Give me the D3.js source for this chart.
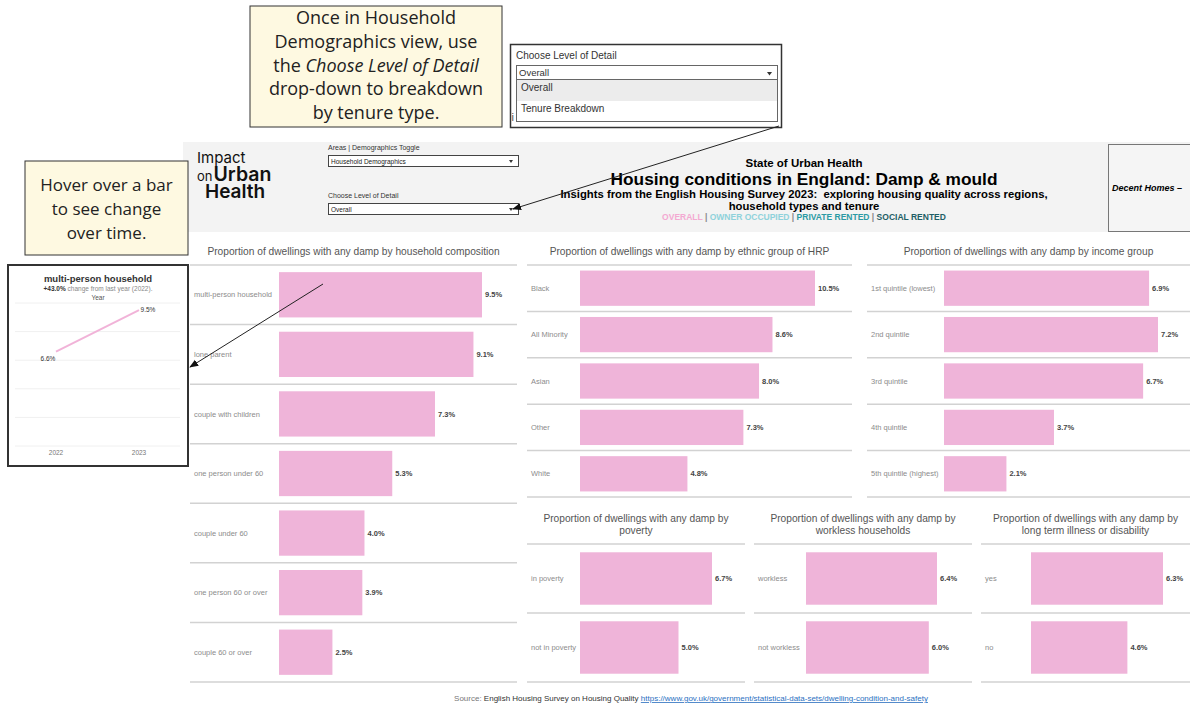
<!DOCTYPE html>
<html>
<head>
<meta charset="utf-8">
<script src="https://cdn.jsdelivr.net/npm/d3@7"></script>
<style>
  html, body { margin: 0; padding: 0; background: #ffffff; }
  svg { display: block; font-family: "Liberation Sans", Arial, sans-serif; }
  .pre { white-space: pre; }
</style>
</head>
<body>
<svg id="chart" width="1190" height="704"></svg>
<script>
"use strict";

/********/
/* data */
/********/

const householdCats = [
  "multi-person household",
  "lone parent",
  "couple with children",
  "one person under 60",
  "couple under 60",
  "one person 60 or over",
  "couple 60 or over",
];
const householdVals = [9.5, 9.1, 7.3, 5.3, 4.0, 3.9, 2.5];

const ethnicCats = ["Black", "All Minority", "Asian", "Other", "White"];
const ethnicVals = [10.5, 8.6, 8.0, 7.3, 4.8];

const incomeCats = [
  "1st quintile (lowest)",
  "2nd quintile",
  "3rd quintile",
  "4th quintile",
  "5th quintile (highest)",
];
const incomeVals = [6.9, 7.2, 6.7, 3.7, 2.1];

const povertyCats = ["in poverty", "not in poverty"];
const povertyVals = [6.7, 5.0];

const worklessCats = ["workless", "not workless"];
const worklessVals = [6.4, 6.0];

const illnessCats = ["yes", "no"];
const illnessVals = [6.3, 4.6];

// tooltip: change over time for the hovered bar
const trendYears = ["2022", "2023"];
const trendVals = [6.6, 9.5];
const trendChange = "+43.0%";
const trendTicks = [0, 2, 4, 6, 8, 10];

const tenureLabels = ["OVERALL", "OWNER OCCUPIED", "PRIVATE RENTED", "SOCIAL RENTED"];
const tenureColours = ["#f3a9d2", "#8fd2db", "#2b9aa4", "#1f5e66"];

const barColour = "#efb4d9";

/********/
/* view */
/********/

const svg = d3.select("#chart");

const defs = svg.append("defs");
defs
  .append("marker")
  .attr("id", "arrow")
  .attr("viewBox", "0 0 10 10")
  .attr("refX", 9)
  .attr("refY", 5)
  .attr("markerWidth", 9)
  .attr("markerHeight", 9)
  .attr("markerUnits", "userSpaceOnUse")
  .attr("orient", "auto")
  .append("path")
  .attr("d", "M0,1 L10,5 L0,9 Z")
  .attr("fill", "#111");

// header band
svg
  .append("rect")
  .attr("x", 183)
  .attr("y", 142)
  .attr("width", 1007)
  .attr("height", 90)
  .attr("fill", "#f3f3f3");

function logoView() {
  const g = svg
    .append("g")
    .attr("font-family", "Inter, 'Liberation Sans', sans-serif")
    .attr("fill", "#111");
  g.append("text").attr("x", 197).attr("y", 163).attr("font-size", 15).attr("font-weight", 400).text("Impact");
  const l2 = g.append("text").attr("x", 197).attr("y", 181);
  l2.append("tspan").attr("font-size", 13).attr("font-weight", 400).text("on");
  l2.append("tspan").attr("font-size", 19.5).attr("font-weight", 600).attr("dx", 1).text("Urban");
  g.append("text").attr("x", 205).attr("y", 197.5).attr("font-size", 19).attr("font-weight", 600).text("Health");
}
logoView();

function dropdownView(x, y, w, label, value) {
  svg.append("text").attr("x", x).attr("y", y).attr("font-size", 7).attr("fill", "#333").text(label);
  svg
    .append("rect")
    .attr("x", x + 0.5)
    .attr("y", y + 5.5)
    .attr("width", w)
    .attr("height", 11)
    .attr("fill", "#fff")
    .attr("stroke", "#444");
  svg.append("text").attr("x", x + 3).attr("y", y + 13.5).attr("font-size", 6.5).attr("fill", "#222").text(value);
  svg
    .append("path")
    .attr("d", `M${x + w - 9},${y + 10} l4,0 l-2,3 z`)
    .attr("fill", "#333");
}
dropdownView(328, 150, 190, "Areas | Demographics Toggle", "Household Demographics");
dropdownView(328, 198, 190, "Choose Level of Detail", "Overall");

// titles
const cx = 804;
svg.append("text").attr("x", cx).attr("y", 167).attr("text-anchor", "middle")
  .attr("font-size", 11.5).attr("font-weight", "bold").text("State of Urban Health");
svg.append("text").attr("x", cx).attr("y", 185).attr("text-anchor", "middle")
  .attr("font-size", 17.3).attr("font-weight", "bold").text("Housing conditions in England: Damp & mould");
svg.append("text").attr("class", "pre").attr("x", cx).attr("y", 198).attr("text-anchor", "middle")
  .attr("font-size", 11.3).attr("font-weight", "bold")
  .text("Insights from the English Housing Survey 2023:  exploring housing quality across regions,");
svg.append("text").attr("x", cx).attr("y", 210).attr("text-anchor", "middle")
  .attr("font-size", 11.3).attr("font-weight", "bold").text("household types and tenure");

const tenure = svg.append("text").attr("x", cx).attr("y", 219.5).attr("text-anchor", "middle")
  .attr("font-size", 8.5).attr("font-weight", "bold");
tenureLabels.forEach((t, i) => {
  if (i > 0) tenure.append("tspan").attr("fill", "#888").text(" | ");
  tenure.append("tspan").attr("fill", tenureColours[i]).text(t);
});

// right header box
svg.append("rect").attr("x", 1108.5).attr("y", 144.5).attr("width", 90).attr("height", 87)
  .attr("fill", "#f5f5f5").attr("stroke", "#777");
svg.append("text").attr("x", 1112).attr("y", 191).attr("font-size", 9)
  .attr("font-style", "italic").attr("font-weight", "bold").text("Decent Homes \u2013");

/**********/
/* panels */
/**********/

function panelView(cfg) {
  const g = svg.append("g");
  cfg.title.forEach((t, i) => {
    g.append("text")
      .attr("x", (cfg.x0 + cfg.x1) / 2)
      .attr("y", cfg.titleY + i * 12)
      .attr("text-anchor", "middle")
      .attr("font-size", 10.2)
      .attr("fill", "#555")
      .text(t);
  });

  const y = d3.scaleBand().domain(cfg.cats).range([cfg.top, cfg.bottom]);
  const x = d3
    .scaleLinear()
    .domain([0, d3.max(cfg.vals)])
    .range([cfg.barStart, cfg.maxEnd]);
  const inset = y.bandwidth() * 0.12;

  const seps = cfg.cats.map(c => y(c)).concat([cfg.bottom]);
  g.selectAll(".sep")
    .data(seps)
    .join("line")
    .attr("x1", cfg.x0)
    .attr("x2", cfg.x1)
    .attr("y1", d => d)
    .attr("y2", d => d)
    .attr("stroke", "#d2d2d2")
    .attr("stroke-width", 1.5);

  const rows = g
    .selectAll(".row")
    .data(cfg.cats.map((c, i) => ({ cat: c, val: cfg.vals[i] })))
    .join("g");

  rows
    .append("rect")
    .attr("x", x(0))
    .attr("y", d => y(d.cat) + inset)
    .attr("width", d => x(d.val) - x(0))
    .attr("height", y.bandwidth() - inset * 2)
    .attr("fill", barColour);

  rows
    .append("text")
    .attr("x", cfg.x0 + 4)
    .attr("y", d => y(d.cat) + y.bandwidth() / 2)
    .attr("dy", "0.35em")
    .attr("font-size", 7.5)
    .attr("fill", "#8c8c8c")
    .text(d => d.cat);

  rows
    .append("text")
    .attr("x", d => x(d.val) + 3)
    .attr("y", d => y(d.cat) + y.bandwidth() / 2)
    .attr("dy", "0.35em")
    .attr("font-size", 7.5)
    .attr("font-weight", "bold")
    .attr("fill", "#444")
    .text(d => d.val.toFixed(1) + "%");
}

panelView({
  title: ["Proportion of dwellings with any damp by household composition"],
  titleY: 255, x0: 190, x1: 517, top: 265, bottom: 682,
  barStart: 279, maxEnd: 482, cats: householdCats, vals: householdVals,
});
panelView({
  title: ["Proportion of dwellings with any damp by ethnic group of HRP"],
  titleY: 255, x0: 527, x1: 852, top: 265, bottom: 497,
  barStart: 580, maxEnd: 815, cats: ethnicCats, vals: ethnicVals,
});
panelView({
  title: ["Proportion of dwellings with any damp by income group"],
  titleY: 255, x0: 867, x1: 1190, top: 265, bottom: 497,
  barStart: 944, maxEnd: 1158, cats: incomeCats, vals: incomeVals,
});
panelView({
  title: ["Proportion of dwellings with any damp by", "poverty"],
  titleY: 522, x0: 527, x1: 745, top: 544, bottom: 682,
  barStart: 580, maxEnd: 712, cats: povertyCats, vals: povertyVals,
});
panelView({
  title: ["Proportion of dwellings with any damp by", "workless households"],
  titleY: 522, x0: 754, x1: 972, top: 544, bottom: 682,
  barStart: 806, maxEnd: 937, cats: worklessCats, vals: worklessVals,
});
panelView({
  title: ["Proportion of dwellings with any damp by", "long term illness or disability"],
  titleY: 522, x0: 981, x1: 1190, top: 544, bottom: 682,
  barStart: 1031, maxEnd: 1163, cats: illnessCats, vals: illnessVals,
});

// source
const src = svg.append("text").attr("x", 691).attr("y", 701)
  .attr("text-anchor", "middle").attr("font-size", 8);
src.append("tspan").attr("fill", "#777").text("Source: ");
src.append("tspan").attr("fill", "#333").text("English Housing Survey on Housing Quality ");
src.append("tspan").attr("fill", "#2a6fbf").attr("text-decoration", "underline")
  .text("https://www.gov.uk/government/statistical-data-sets/dwelling-condition-and-safety");

/***********/
/* tooltip */
/***********/

function tooltipView() {
  const g = svg.append("g");
  g.append("rect").attr("x", 8).attr("y", 265).attr("width", 180).attr("height", 201)
    .attr("fill", "#fff").attr("stroke", "#333").attr("stroke-width", 2);

  g.append("text").attr("x", 98).attr("y", 282).attr("text-anchor", "middle")
    .attr("font-size", 9.5).attr("font-weight", "bold").attr("fill", "#333").text(householdCats[0]);
  const sub = g.append("text").attr("x", 98).attr("y", 291).attr("text-anchor", "middle").attr("font-size", 6.5);
  sub.append("tspan").attr("font-weight", "bold").attr("fill", "#333").text(trendChange);
  sub.append("tspan").attr("fill", "#888").text(` change from last year (${trendYears[0]}).`);
  g.append("text").attr("x", 98).attr("y", 300).attr("text-anchor", "middle")
    .attr("font-size", 6.5).attr("fill", "#555").text("Year");

  const x = d3.scalePoint().domain(trendYears).range([56, 139]);
  const y = d3.scaleLinear().domain([0, 10]).range([446, 303]);

  g.selectAll(".grid")
    .data(trendTicks)
    .join("line")
    .attr("x1", 15)
    .attr("x2", 180)
    .attr("y1", d => y(d))
    .attr("y2", d => y(d))
    .attr("stroke", "#f0f0f0");

  g.append("path")
    .datum(trendVals)
    .attr("d", d3.line().x((d, i) => x(trendYears[i])).y(d => y(d)))
    .attr("fill", "none")
    .attr("stroke", "#f1b3d8")
    .attr("stroke-width", 2);

  g.selectAll(".lbl")
    .data(trendVals)
    .join("text")
    .attr("x", (d, i) => x(trendYears[i]) + (i === 0 ? -8 : 9))
    .attr("y", (d, i) => y(d) + (i === 0 ? 9 : 2))
    .attr("text-anchor", "middle")
    .attr("font-size", 6.5)
    .attr("fill", "#333")
    .text(d => d.toFixed(1) + "%");

  g.selectAll(".yr")
    .data(trendYears)
    .join("text")
    .attr("x", d => x(d))
    .attr("y", 455)
    .attr("text-anchor", "middle")
    .attr("font-size", 6.5)
    .attr("fill", "#777")
    .text(d => d);
}
tooltipView();

/***************/
/* annotations */
/***************/

function noteView(x, y, w, h, lines, lineH, firstY, size) {
  const g = svg.append("g");
  g.append("rect").attr("x", x).attr("y", y).attr("width", w).attr("height", h)
    .attr("fill", "#fef9e1").attr("stroke", "#333").attr("stroke-width", 1);
  lines.forEach((line, i) => {
    const t = g.append("text").attr("x", x + w / 2).attr("y", firstY + i * lineH)
      .attr("text-anchor", "middle").attr("font-size", size)
      .attr("font-family", "'Open Sans', 'Noto Sans', sans-serif").attr("fill", "#222");
    line.forEach(part => {
      t.append("tspan").attr("font-style", part.italic ? "italic" : "normal").text(part.text);
    });
  });
}

noteView(25, 161, 163, 94, [
  [{ text: "Hover over a bar" }],
  [{ text: "to see change" }],
  [{ text: "over time." }],
], 24, 191, 17);

noteView(250, 6, 252, 121, [
  [{ text: "Once in Household" }],
  [{ text: "Demographics view, use" }],
  [{ text: "the " }, { text: "Choose Level of Detail", italic: true }],
  [{ text: "drop-down to breakdown" }],
  [{ text: "by tenure type." }],
], 23.8, 24, 18);

// dropdown screenshot
function dropdownShotView() {
  const g = svg.append("g");
  g.append("rect").attr("x", 510.5).attr("y", 44.5).attr("width", 271).attr("height", 83)
    .attr("fill", "#fff").attr("stroke", "#333").attr("stroke-width", 1.5);
  g.append("text").attr("x", 516).attr("y", 59).attr("font-size", 10).attr("fill", "#333").text("Choose Level of Detail");
  g.append("rect").attr("x", 516.5).attr("y", 65.5).attr("width", 261).attr("height", 14)
    .attr("fill", "#fff").attr("stroke", "#666");
  g.append("text").attr("x", 519).attr("y", 76).attr("font-size", 9.5).attr("fill", "#333").text("Overall");
  g.append("path").attr("d", "M767,72 l5,0 l-2.5,3.5 z").attr("fill", "#333");
  g.append("rect").attr("x", 516.5).attr("y", 79.5).attr("width", 261).attr("height", 42)
    .attr("fill", "#fff").attr("stroke", "#666");
  g.append("rect").attr("x", 517).attr("y", 80).attr("width", 260).attr("height", 21).attr("fill", "#ececec");
  g.append("text").attr("x", 521).attr("y", 91).attr("font-size", 10).attr("fill", "#333").text("Overall");
  g.append("text").attr("x", 521).attr("y", 112).attr("font-size", 10).attr("fill", "#333").text("Tenure Breakdown");
  g.append("text").attr("x", 511.5).attr("y", 121).attr("font-size", 11).attr("fill", "#555").text("i");
}
dropdownShotView();

// arrows
svg.append("line").attr("x1", 779).attr("y1", 126).attr("x2", 513).attr("y2", 209)
  .attr("stroke", "#222").attr("stroke-width", 1).attr("marker-end", "url(#arrow)");
svg.append("line").attr("x1", 323).attr("y1", 284).attr("x2", 190).attr("y2", 367)
  .attr("stroke", "#222").attr("stroke-width", 1).attr("marker-end", "url(#arrow)");
</script>
</body>
</html>
